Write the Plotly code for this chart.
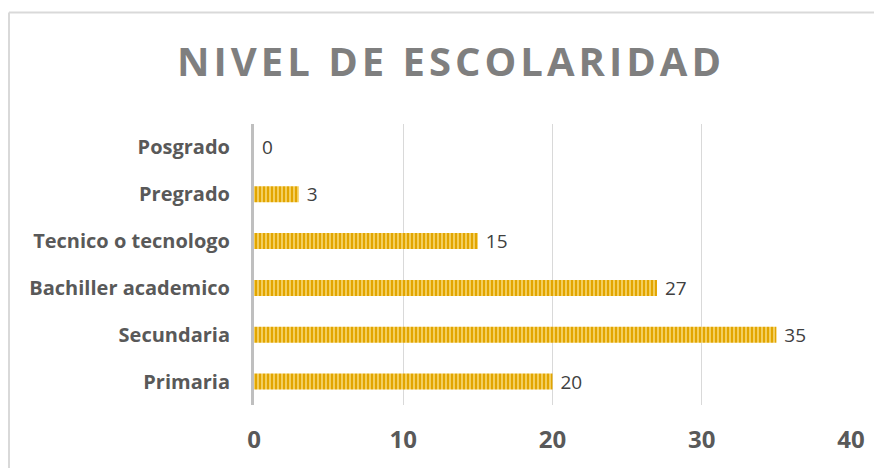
import plotly.graph_objects as go

categories = ["Primaria", "Secundaria", "Bachiller academico", "Tecnico o tecnologo", "Pregrado", "Posgrado"]
values = [20, 35, 27, 15, 3, 0]
x_ticks = [0, 10, 20, 30, 40]
title_text = "NIVEL DE ESCOLARIDAD"

W, H = 882, 468
L, R, T, B = 246, 39, 115.5, 70.5
pw, ph = W - L - R, H - T - B

fig = go.Figure(go.Bar(
    y=categories, x=values, orientation="h",
    width=0.34,
    marker=dict(color="#F3CE5E", line=dict(width=0),
                pattern=dict(shape="|", fgcolor="#E2A500", bgcolor="#F3CE5E", size=4, solidity=0.5, fillmode="replace")),
    text=[" " + str(v) for v in values], textposition="outside",
    textfont=dict(family="Open Sans", size=19, color="#404040"),
    constraintext="none",
    cliponaxis=False,
))

def px_to_paper_x(px):
    return (px - L) / pw

def px_to_paper_y(py):
    return (H - B - py) / ph

fig.update_layout(
    width=W, height=H,
    margin=dict(l=L, r=R, t=T, b=B),
    paper_bgcolor="white", plot_bgcolor="white",
    showlegend=False,
    title=dict(text='<span style="letter-spacing:4px">' + title_text + '</span>',
               x=(443 - 0) / W, xref="container", xanchor="center",
               y=1 - 54 / H, yanchor="middle",
               font=dict(family="Open Sans", size=40, color="#7F7F7F", weight="bold")),
    xaxis=dict(range=[0, 40], tickvals=x_ticks, showgrid=True, gridcolor="#D9D9D9", gridwidth=1,
               zeroline=False, showline=False, ticks="", ticklabelstandoff=18,
               tickfont=dict(family="Open Sans", size=24, color="#595959", weight="bold"),
               fixedrange=True),
    yaxis=dict(categoryorder="array", categoryarray=categories, showgrid=False,
               showline=True, linecolor="#BFBFBF", linewidth=3, ticks="", ticklabelstandoff=17,
               tickfont=dict(family="Open Sans", size=20, color="#595959", weight="bold"),
               fixedrange=True),
    shapes=[
        dict(type="line", xref="paper", yref="paper",
             x0=px_to_paper_x(1), x1=px_to_paper_x(1), y0=px_to_paper_y(3.5), y1=px_to_paper_y(480),
             line=dict(color="#D9D9D9", width=2)),
        dict(type="line", xref="paper", yref="paper",
             x0=px_to_paper_x(1), x1=px_to_paper_x(900), y0=px_to_paper_y(3.5), y1=px_to_paper_y(3.5),
             line=dict(color="#D9D9D9", width=2)),
    ],
)

fig.write_html("out.html")
